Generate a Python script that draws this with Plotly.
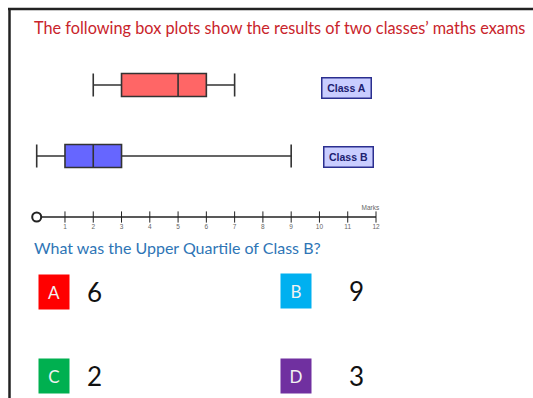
import plotly.graph_objects as go

# box plot summaries
classes = ["Class A", "Class B"]
mins = [2, 0]
q1s = [3, 1]
medians = [5, 2]
q3s = [6, 3]
maxs = [7, 9]
box_colors = ["#FF6666", "#6666FF"]

tick_values = list(range(1, 13))
axis_name = "Marks"

title_text = "The following box plots show the results of two classes\u2019 maths exams"
question_text = "What was the Upper Quartile of Class B?"

option_letters = ["A", "B", "C", "D"]
option_values = ["6", "9", "2", "3"]
option_colors = ["#FF0000", "#00B0F0", "#00B050", "#7030A0"]

W, H = 533, 398


def px(x):
    return x / W


fig = go.Figure()

# vertical pixel positions used as y "data" units
row_y = [85, 156]
line_y = 217

for i, name in enumerate(classes):
    fig.add_trace(go.Box(
        y=[row_y[i]], q1=[q1s[i]], median=[medians[i]], q3=[q3s[i]],
        lowerfence=[mins[i]], upperfence=[maxs[i]],
        orientation="h", width=23, whiskerwidth=1,
        fillcolor=box_colors[i], line=dict(color="#333333", width=1.6),
        showlegend=False, hoverinfo="skip", name=name,
    ))

# number line
fig.add_trace(go.Scatter(x=[0, max(tick_values)], y=[line_y, line_y], mode="lines",
                         line=dict(color="#222222", width=1.5), showlegend=False, hoverinfo="skip"))
fig.add_trace(go.Scatter(x=tick_values, y=[line_y] * len(tick_values), mode="markers",
                         marker=dict(symbol="line-ns", size=8, line=dict(color="#222222", width=1)),
                         showlegend=False, hoverinfo="skip"))
fig.add_trace(go.Scatter(x=[0], y=[line_y], mode="markers",
                         marker=dict(symbol="circle", size=9, color="white",
                                     line=dict(color="#222222", width=2)),
                         showlegend=False, hoverinfo="skip"))
fig.add_trace(go.Scatter(x=tick_values, y=[line_y + 10] * len(tick_values), mode="text",
                         text=[str(t) for t in tick_values],
                         textfont=dict(family="Arial", size=6.5, color="#666666"),
                         showlegend=False, hoverinfo="skip"))
fig.add_trace(go.Scatter(x=[max(tick_values) - 0.2], y=[line_y - 9], mode="text",
                         text=[axis_name], textfont=dict(family="Arial", size=6.5, color="#666666"),
                         showlegend=False, hoverinfo="skip"))

annotations = []
# title + question
annotations.append(dict(x=px(32), y=27, xref="paper", yref="y", text=title_text, showarrow=False,
                        xanchor="left", yanchor="middle",
                        font=dict(family="Lato", size=16.3, color="#C9242B")))
annotations.append(dict(x=px(32), y=247, xref="paper", yref="y", text=question_text, showarrow=False,
                        xanchor="left", yanchor="middle",
                        font=dict(family="Lato", size=16, color="#2E75B6")))

# class label boxes
label_x = [346, 348.5]
label_y = [88, 156.5]
for i, name in enumerate(classes):
    annotations.append(dict(x=px(label_x[i]), y=label_y[i], xref="paper", yref="y",
                            text="<b>%s</b>" % name, showarrow=False,
                            xanchor="center", yanchor="middle", width=48, height=19,
                            bgcolor="#C9CDFF", bordercolor="#2B2F8F", borderwidth=1.5, borderpad=0,
                            font=dict(family="Arial", size=10.5, color="#1C2070")))

# answer options
opt_x = [54, 296, 54, 296]
opt_y = [292, 291, 376, 376]
val_x = [85, 347, 85, 347]
for i in range(len(option_letters)):
    annotations.append(dict(x=px(opt_x[i]), y=opt_y[i], xref="paper", yref="y",
                            text=option_letters[i], showarrow=False,
                            xanchor="center", yanchor="middle", width=30, height=34,
                            bgcolor=option_colors[i], borderpad=0,
                            font=dict(family="Lato", size=17, color="#F2F2F2")))
    annotations.append(dict(x=px(val_x[i]), y=opt_y[i], xref="paper", yref="y",
                            text=option_values[i], showarrow=False,
                            xanchor="left", yanchor="middle",
                            font=dict(family="Lato", size=26, color="#111111")))

# frame lines
shapes = [
    dict(type="line", xref="paper", yref="y", x0=px(8), x1=1, y0=9, y1=9,
         line=dict(color="#222222", width=2.5)),
    dict(type="line", xref="paper", yref="y", x0=px(9.5), x1=px(9.5), y0=8, y1=H,
         line=dict(color="#222222", width=2.5)),
]

# map 0 -> 36.7px and 12 -> 376px
unit = 12 / (376 - 36.7)
fig.update_layout(
    width=W, height=H,
    margin=dict(l=0, r=0, t=0, b=0),
    paper_bgcolor="white", plot_bgcolor="white",
    xaxis=dict(range=[-36.7 * unit, 12 + (W - 376) * unit], visible=False, fixedrange=True),
    yaxis=dict(range=[H, 0], visible=False, fixedrange=True),
    annotations=annotations, shapes=shapes,
)

# drop the browser's default body margin so the figure sits at the window corner
fig.write_html("out.html", config={"displayModeBar": False},
               post_script="document.body.style.margin='0';")
